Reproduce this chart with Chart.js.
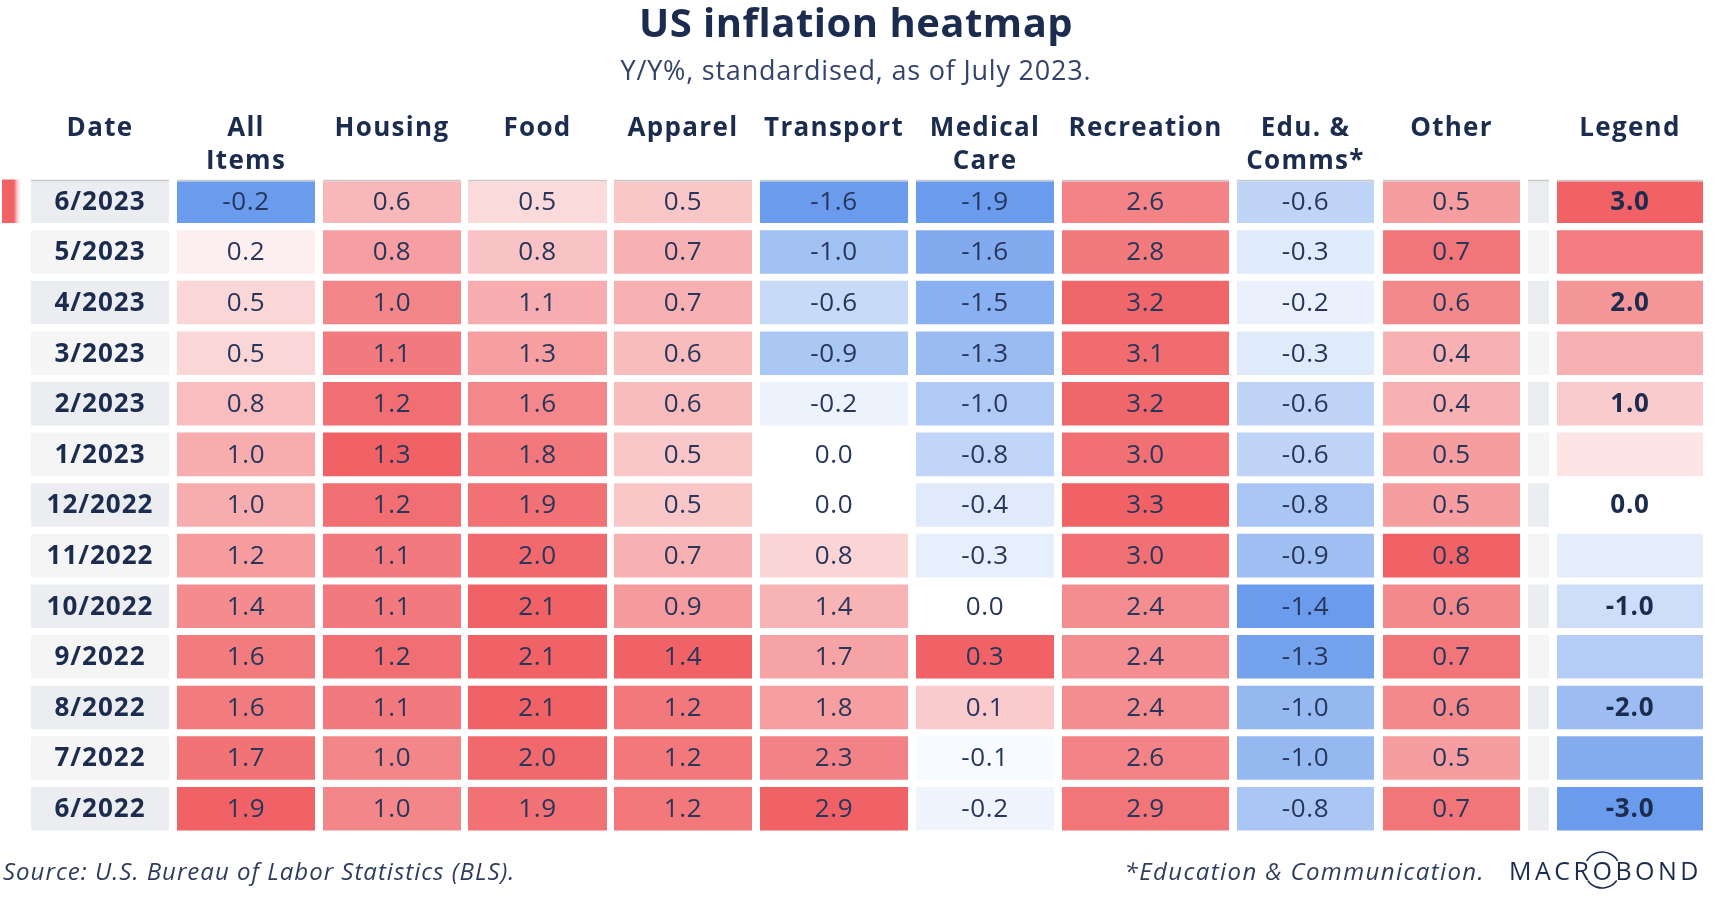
<!DOCTYPE html>
<html>
<head>
<meta charset="utf-8">
<title>US inflation heatmap</title>
<script src="https://cdn.jsdelivr.net/npm/chart.js@4.4.0/dist/chart.umd.min.js"></script>
<style>
  html, body { margin: 0; padding: 0; background: #fff; }
  canvas { display: block; }
</style>
</head>
<body>
<canvas id="heatmap" width="1718" height="899"></canvas>
<script>
// ---- data ----
const dates = ['6/2023', '5/2023', '4/2023', '3/2023', '2/2023', '1/2023', '12/2022',
               '11/2022', '10/2022', '9/2022', '8/2022', '7/2022', '6/2022'];

const allItems   = [-0.2, 0.2, 0.5, 0.5, 0.8, 1.0, 1.0, 1.2, 1.4, 1.6, 1.6, 1.7, 1.9];
const housing    = [0.6, 0.8, 1.0, 1.1, 1.2, 1.3, 1.2, 1.1, 1.1, 1.2, 1.1, 1.0, 1.0];
const food       = [0.5, 0.8, 1.1, 1.3, 1.6, 1.8, 1.9, 2.0, 2.1, 2.1, 2.1, 2.0, 1.9];
const apparel    = [0.5, 0.7, 0.7, 0.6, 0.6, 0.5, 0.5, 0.7, 0.9, 1.4, 1.2, 1.2, 1.2];
const transport  = [-1.6, -1.0, -0.6, -0.9, -0.2, 0.0, 0.0, 0.8, 1.4, 1.7, 1.8, 2.3, 2.9];
const medical    = [-1.9, -1.6, -1.5, -1.3, -1.0, -0.8, -0.4, -0.3, 0.0, 0.3, 0.1, -0.1, -0.2];
const recreation = [2.6, 2.8, 3.2, 3.1, 3.2, 3.0, 3.3, 3.0, 2.4, 2.4, 2.4, 2.6, 2.9];
const eduComms   = [-0.6, -0.3, -0.2, -0.3, -0.6, -0.6, -0.8, -0.9, -1.4, -1.3, -1.0, -1.0, -0.8];
const other      = [0.5, 0.7, 0.6, 0.4, 0.4, 0.5, 0.5, 0.8, 0.6, 0.7, 0.6, 0.5, 0.7];

const legendValues = [3.0, 2.5, 2.0, 1.5, 1.0, 0.5, 0.0, -0.5, -1.0, -1.5, -2.0, -2.5, -3.0];
const legendLabels = ['3.0', '', '2.0', '', '1.0', '', '0.0', '', '-1.0', '', '-2.0', '', '-3.0'];

const headers = [['Date'], ['All', 'Items'], ['Housing'], ['Food'], ['Apparel'], ['Transport'],
                 ['Medical', 'Care'], ['Recreation'], ['Edu. &', 'Comms*'], ['Other'], [], ['Legend']];

// ---- layout: column extents in units of the hidden x scale ----
const colSpans = [[31, 169], [177, 315], [323, 461], [468, 607], [614, 752], [760, 908],
                  [916, 1054], [1062, 1229], [1237, 1374], [1383, 1520], [1528, 1549], [1557, 1703]];
const markerSpan = [2, 22];

const NAVY = '#1b2c4f';
const VALUE_INK = '#27365a';
const RED = [240, 98, 102];
const BLUE = [106, 155, 236];
const FONT = '"Open Sans", "Noto Sans", sans-serif';

function mix(c, t) {
  return `rgb(${Math.round(255 + (c[0] - 255) * t)}, ${Math.round(255 + (c[1] - 255) * t)}, ${Math.round(255 + (c[2] - 255) * t)})`;
}

// each column is shaded against its own extremes, white at zero
function heatColors(values, limit) {
  const maxPos = limit || Math.max(0, ...values);
  const maxNeg = limit || -Math.min(0, ...values);
  return values.map(v => {
    if (v > 0) return mix(RED, v / maxPos);
    if (v < 0) return mix(BLUE, -v / maxNeg);
    return '#ffffff';
  });
}

const stripes = dates.map((d, i) => i % 2 === 0 ? '#ecedf0' : '#f5f5f6');
const series = [allItems, housing, food, apparel, transport, medical, recreation, eduComms, other];

function cellBars(span) {
  return dates.map(() => span);
}

function topEdge(ctx) {
  return ctx.dataIndex === 0 ? { top: 2, left: 0, right: 0, bottom: 0 } : 0;
}

const datasets = [];

// latest-row marker on the far left
datasets.push({
  data: dates.map((d, i) => i === 0 ? markerSpan : null),
  backgroundColor: (ctx) => {
    const xs = ctx.chart.scales.x;
    const x0 = xs ? xs.getPixelForValue(markerSpan[0]) : NaN;
    const x1 = xs ? xs.getPixelForValue(markerSpan[1]) : NaN;
    if (!Number.isFinite(x0) || !Number.isFinite(x1)) return mix(RED, 1);
    const g = ctx.chart.ctx.createLinearGradient(x0, 0, x1, 0);
    g.addColorStop(0, mix(RED, 1));
    g.addColorStop(0.6, mix(RED, 1));
    g.addColorStop(1, 'rgba(255,255,255,0)');
    return g;
  }
});

// date column
datasets.push({
  data: cellBars(colSpans[0]),
  backgroundColor: stripes,
  cellText: dates,
  textFont: `bold 26px ${FONT}`,
  textSpacing: '1px',
  textColor: NAVY,
  borderWidth: topEdge
});

series.forEach((values, k) => {
  datasets.push({
    data: cellBars(colSpans[k + 1]),
    backgroundColor: heatColors(values),
    cellText: values.map(v => v.toFixed(1)),
    textFont: `26px ${FONT}`,
    textSpacing: '0.6px',
    textColor: VALUE_INK,
    borderWidth: topEdge
  });
});

// spacer column
datasets.push({
  data: cellBars(colSpans[10]),
  backgroundColor: stripes,
  borderWidth: topEdge
});

// legend column
datasets.push({
  data: cellBars(colSpans[11]),
  backgroundColor: heatColors(legendValues, 3),
  cellText: legendLabels,
  textFont: `bold 26px ${FONT}`,
  textSpacing: '0.8px',
  textColor: NAVY,
  borderWidth: topEdge
});

datasets.forEach(ds => {
  ds.grouped = false;
  ds.borderSkipped = false;
  ds.borderColor = '#c8c9cc';
  if (ds.borderWidth === undefined) ds.borderWidth = 0;
  ds.barPercentage = 1;
  ds.categoryPercentage = 0.86;
});

const cellTextPlugin = {
  id: 'cellText',
  afterDatasetsDraw(chart) {
    const ctx = chart.ctx;
    ctx.save();
    ctx.textAlign = 'center';
    ctx.textBaseline = 'middle';
    chart.data.datasets.forEach((ds, di) => {
      if (!ds.cellText) return;
      ctx.font = ds.textFont;
      ctx.letterSpacing = ds.textSpacing || '0px';
      ctx.fillStyle = ds.textColor;
      chart.getDatasetMeta(di).data.forEach((bar, i) => {
        const t = ds.cellText[i];
        if (!t) return;
        const p = bar.getProps(['x', 'y', 'base'], true);
        ctx.fillText(t, (p.x + p.base) / 2, p.y + 1);
      });
    });
    ctx.restore();
  }
};

const frameTextPlugin = {
  id: 'frameText',
  afterDraw(chart) {
    const ctx = chart.ctx;
    const xs = chart.scales.x;
    ctx.save();
    ctx.fillStyle = NAVY;
    ctx.textAlign = 'center';
    ctx.textBaseline = 'alphabetic';

    ctx.font = `bold 40px ${FONT}`;
    ctx.letterSpacing = '0.5px';
    ctx.fillText('US inflation heatmap', 856, 37);
    ctx.fillStyle = '#34436a';
    ctx.font = `27px ${FONT}`;
    ctx.letterSpacing = '0.8px';
    ctx.fillText('Y/Y%, standardised, as of July 2023.', 856, 80);

    ctx.fillStyle = NAVY;
    ctx.font = `bold 26px ${FONT}`;
    ctx.letterSpacing = '1.3px';
    headers.forEach((lines, k) => {
      const cx = xs.getPixelForValue((colSpans[k][0] + colSpans[k][1]) / 2);
      lines.forEach((line, j) => ctx.fillText(line, cx, 136 + j * 33));
    });

    ctx.fillStyle = '#2f3d5c';
    ctx.font = `italic 24px ${FONT}`;
    ctx.letterSpacing = '1px';
    ctx.textAlign = 'left';
    ctx.fillText('Source: U.S. Bureau of Labor Statistics (BLS).', 3, 880);
    ctx.textAlign = 'right';
    ctx.letterSpacing = '1.4px';
    ctx.fillText('*Education & Communication.', 1485, 880);

    // logo
    ctx.fillStyle = NAVY;
    ctx.strokeStyle = NAVY;
    ctx.textAlign = 'left';
    ctx.font = `25px ${FONT}`;
    ctx.letterSpacing = '3.5px';
    const logoX = 1509;
    ctx.fillText('MACROBOND', logoX, 880);
    const pre = ctx.measureText('MACR').width;
    const oW = ctx.measureText('O').width - 3.5;
    const ox = logoX + pre + oW / 2;
    ctx.lineWidth = 1.6;
    ctx.beginPath();
    ctx.arc(ox, 870, 18, Math.PI * 1.17, Math.PI * 1.83);
    ctx.stroke();
    ctx.beginPath();
    ctx.arc(ox, 870, 18, Math.PI * 0.2, Math.PI * 0.8);
    ctx.stroke();
    ctx.restore();
  }
};

new Chart(document.getElementById('heatmap'), {
  type: 'bar',
  data: { labels: dates, datasets },
  options: {
    indexAxis: 'y',
    responsive: false,
    animation: false,
    devicePixelRatio: 1,
    layout: { padding: { top: 176, bottom: 65, left: 0, right: 0 } },
    scales: {
      x: { type: 'linear', min: 0, max: 1718, display: false },
      y: { type: 'category', display: false, offset: true }
    },
    plugins: {
      legend: { display: false },
      tooltip: { enabled: false }
    }
  },
  plugins: [cellTextPlugin, frameTextPlugin]
});
</script>
</body>
</html>
